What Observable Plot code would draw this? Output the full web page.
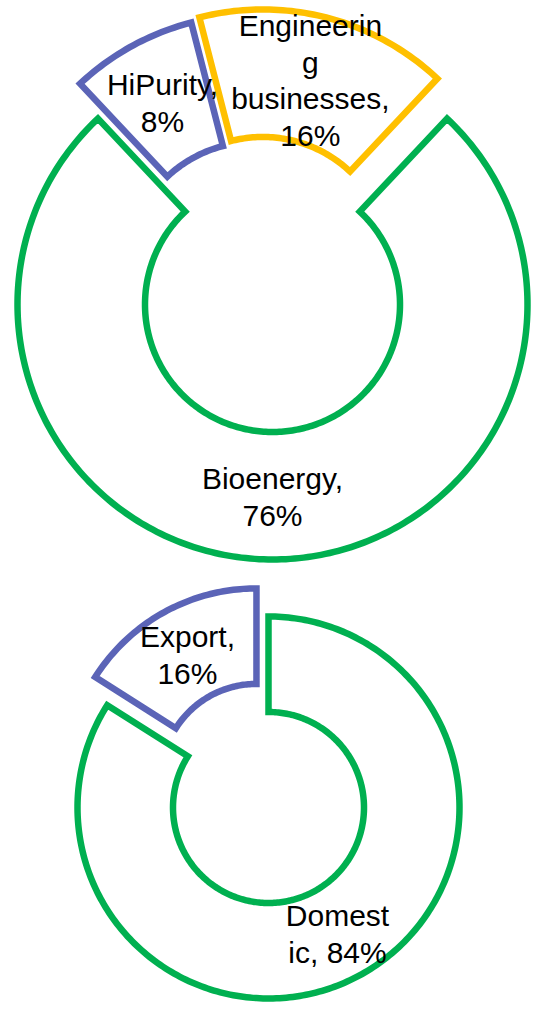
<!DOCTYPE html>
<html>
<head>
<meta charset="utf-8">
<script src="https://cdn.jsdelivr.net/npm/d3@7"></script>
<script src="https://cdn.jsdelivr.net/npm/@observablehq/plot@0.6"></script>
<style>
  body { margin: 0; background: #fff; }
  #chart { width: 539px; }
  #chart svg { display: block; }
</style>
</head>
<body>
<div id="chart"></div>
<script>
// ---- Data ----
const segmentNames = ["Bioenergy", "HiPurity", "Engineering businesses"];
const segmentValues = [76, 8, 16];
const marketNames = ["Domestic", "Export"];
const marketValues = [84, 16];

// ---- Presentation ----
const colorOf = {
  "Bioenergy": "#00B050",
  "HiPurity": "#5B64B7",
  "Engineering businesses": "#FFC000",
  "Domestic": "#00B050",
  "Export": "#5B64B7"
};
// label wrapping as rendered in the original
const wrappedName = {
  "Engineering businesses": "Engineerin\ng\nbusinesses,",
  "Domestic": "Domest\nic,"
};
const valueOnSameLine = new Set(["Domestic"]);
// exploded slices (offset in units of the outer radius, y up)
const explode = {
  "HiPurity": [-0.07, 0.137],
  "Engineering businesses": [-0.038, 0.157],
  "Export": [-0.063, 0.147]
};
const R_OUT = 1, R_IN = 0.5;

function ring(names, values, startDeg) {
  const a0 = startDeg * Math.PI / 180;
  const arcs = d3.pie().sort(null).startAngle(a0).endAngle(a0 + 2 * Math.PI)(values);
  const pts = [], labels = [];
  arcs.forEach((a, i) => {
    const name = names[i];
    const [dx, dy] = explode[name] || [0, 0];
    const n = Math.max(8, Math.ceil((a.endAngle - a.startAngle) / (Math.PI / 180)));
    for (let k = 0; k <= n; k++) {
      const t = a.startAngle + (a.endAngle - a.startAngle) * k / n;
      pts.push({name, x: dx + R_OUT * Math.sin(t), y: dy + R_OUT * Math.cos(t)});
    }
    for (let k = n; k >= 0; k--) {
      const t = a.startAngle + (a.endAngle - a.startAngle) * k / n;
      pts.push({name, x: dx + R_IN * Math.sin(t), y: dy + R_IN * Math.cos(t)});
    }
    const mid = (a.startAngle + a.endAngle) / 2, rm = (R_OUT + R_IN) / 2;
    const head = wrappedName[name] ?? (name + ",");
    const text = head + (valueOnSameLine.has(name) ? " " : "\n") + values[i] + "%";
    labels.push({name, x: dx + rm * Math.sin(mid), y: dy + rm * Math.cos(mid), text});
  });
  return {pts, labels};
}

function donut(names, values, startDeg, height, xDomain, yDomain) {
  const {pts, labels} = ring(names, values, startDeg);
  return Plot.plot({
    width: 539,
    height,
    margin: 0,
    style: {background: "white", fontFamily: "'Liberation Sans', Arial, sans-serif"},
    x: {domain: xDomain, axis: null},
    y: {domain: yDomain, axis: null},
    color: {domain: names, range: names.map(n => colorOf[n])},
    marks: [
      Plot.line(pts, {
        x: "x", y: "y", z: "name", stroke: "name",
        strokeWidth: 6.5, curve: "linear-closed",
        strokeLinejoin: "miter", strokeMiterlimit: 10, fill: "white"
      }),
      Plot.text(labels, {
        x: "x", y: "y", text: "text",
        fontSize: 30, lineHeight: 1.22, fill: "black", textAnchor: "middle"
      })
    ]
  });
}

const chart = document.getElementById("chart");
chart.append(donut(segmentNames, segmentValues, 43.2, 580,
  [-272 / 255, 267 / 255], [-276 / 255, 304 / 255]));
chart.append(donut(marketNames, marketValues, 0, 430,
  [-268 / 191, 271 / 191], [-203 / 191, 227 / 191]));
</script>
</body>
</html>
